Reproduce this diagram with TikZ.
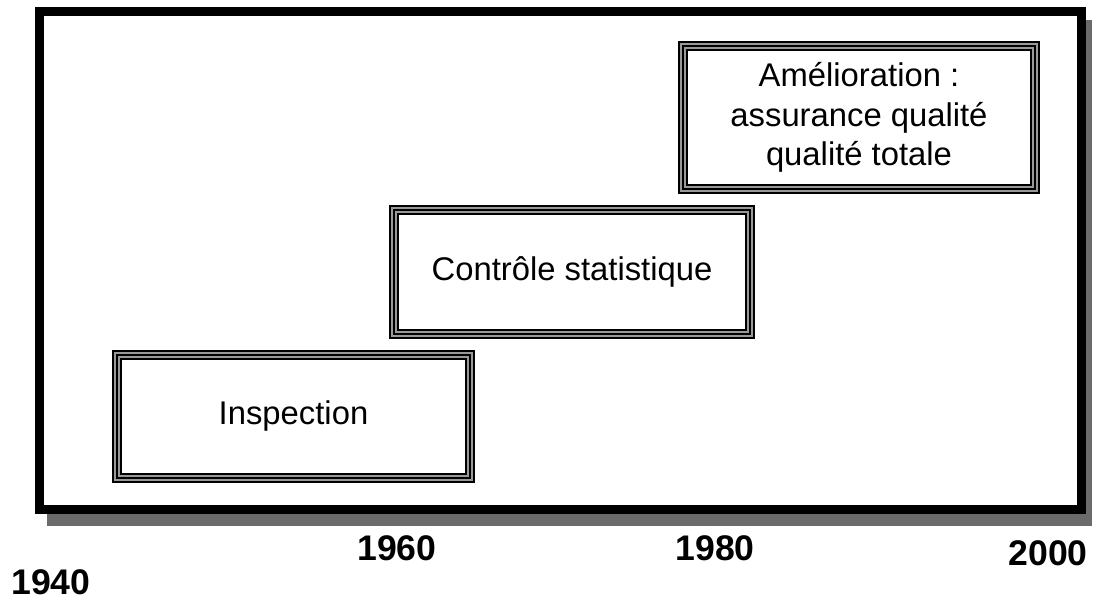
\documentclass[tikz,border=0pt]{standalone}
\usepackage{fontspec}
\setmainfont{Liberation Sans}
\usetikzlibrary{positioning}
\tikzset{
  ombre/.style={fill=black!58, draw=none},
  cadre/.style={draw=black, line width=4.5pt, fill=white},
  etape/.style={rectangle, inner sep=0pt, text centered, align=center, font=\fontsize{16.4}{19.8}\selectfont, fill=white, draw=black, line width=5pt, postaction={draw=black!40, line width=3pt}, postaction={draw=black, line width=1.25pt}},
  annee/.style={anchor=base, font=\fontsize{17.8}{19}\selectfont\bfseries}
}
\begin{document}
\begin{tikzpicture}[x=0.5pt, y=-0.5pt]
	\useasboundingbox (0,0) rectangle (1096,599);
	% cadre avec ombre
	\fill[ombre] (47,20) rectangle (1092,526);
	\draw[cadre] (39.5,11.5) rectangle (1081.5,509.5);
	%
	\node[etape, minimum width=176.5pt, minimum height=61.5pt] (inspection) at (293.5,416.5) {Inspection};
	\node[etape, minimum width=178pt, minimum height=62pt] (controle) at (572,272) {Contrôle statistique};
	\node[etape, minimum width=176pt, minimum height=71.5pt] (amelioration) at (859,117.5) {Amélioration :\\assurance qualité\\qualité totale};
	% annees
	\node[annee] (a1940) at (51,594) {1940};
	\node[annee] (a1960) at (397,560) {1960};
	\node[annee] (a1980) at (715,560) {1980};
	\node[annee] (a2000) at (1048,565) {2000};
\end{tikzpicture}
\end{document}
